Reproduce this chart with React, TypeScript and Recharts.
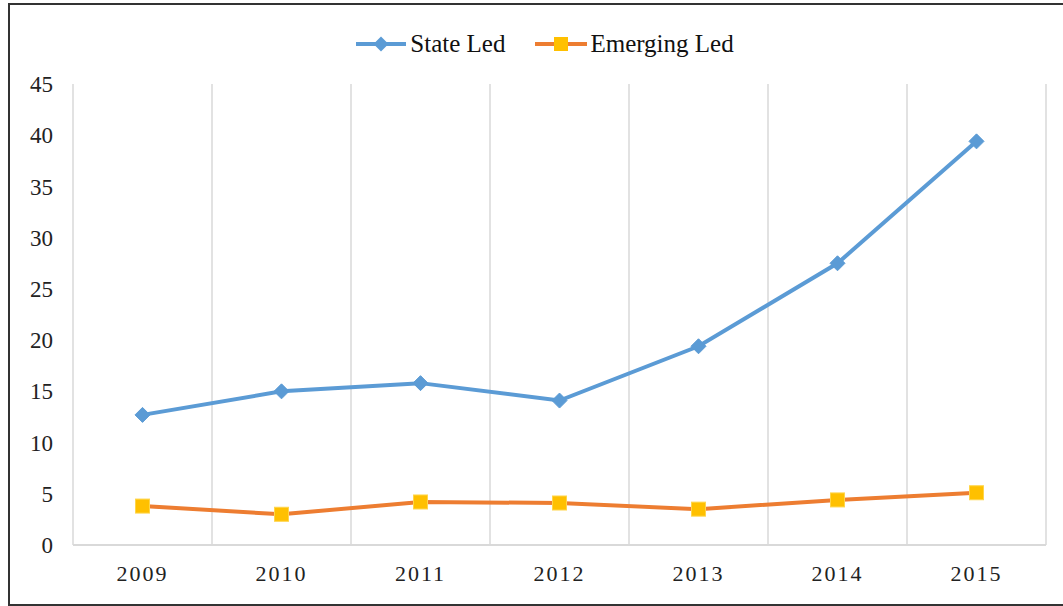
import React from 'react';
import { LineChart, Line, XAxis, YAxis, ReferenceLine } from 'recharts';

const years = ['2009', '2010', '2011', '2012', '2013', '2014', '2015'];
const stateLed = [12.7, 15.0, 15.8, 14.1, 19.4, 27.5, 39.4];
const emergingLed = [3.8, 3.0, 4.2, 4.1, 3.5, 4.4, 5.1];
const yTicks = [0, 5, 10, 15, 20, 25, 30, 35, 40, 45];
const xTicks = [0.5, 1.5, 2.5, 3.5, 4.5, 5.5, 6.5];
const gridLines = [0, 1, 2, 3, 4, 5, 6, 7];

const data = years.map((y, i) => ({ pos: i + 0.5, year: y, state: stateLed[i], emerging: emergingLed[i] }));

const BLUE = '#5B9BD5';
const ORANGE = '#ED7D31';
const GOLD = '#FFC000';
const FONT = '"Liberation Serif", "Times New Roman", serif';

const Diamond = (props: any) => {
  const { cx, cy } = props;
  if (cx == null || cy == null) return null;
  const r = 7.5;
  return <polygon points={`${cx},${cy - r} ${cx + r},${cy} ${cx},${cy + r} ${cx - r},${cy}`} fill={BLUE} stroke={BLUE} strokeWidth={1} />;
};

const Square = (props: any) => {
  const { cx, cy } = props;
  if (cx == null || cy == null) return null;
  const s = 14;
  return <rect x={cx - s / 2} y={cy - s / 2} width={s} height={s} fill={GOLD} stroke="#FFD54A" strokeWidth={1} />;
};

const LegendBlock = () => (
  <div style={{ position: 'absolute', top: 30, left: 0, width: 1090, display: 'flex', justifyContent: 'center', alignItems: 'center', fontFamily: FONT, fontSize: 25, color: '#111', lineHeight: '28px' }}>
    <div style={{ display: 'flex', alignItems: 'center', marginRight: 30 }}>
      <svg width={50} height={20} style={{ marginRight: 4 }}>
        <line x1={0} y1={10} x2={50} y2={10} stroke={BLUE} strokeWidth={4} />
        <polygon points="25,2.5 32.5,10 25,17.5 17.5,10" fill={BLUE} />
      </svg>
      <span>State Led</span>
    </div>
    <div style={{ display: 'flex', alignItems: 'center' }}>
      <svg width={52} height={20} style={{ marginRight: 3 }}>
        <line x1={0} y1={10} x2={52} y2={10} stroke={ORANGE} strokeWidth={4} />
        <rect x={19} y={3} width={14} height={14} fill={GOLD} />
      </svg>
      <span>Emerging Led</span>
    </div>
  </div>
);

export default function App() {
  return (
    <div style={{ position: 'absolute', left: 0, top: 0, width: 1063, height: 606, background: '#fff', overflow: 'hidden' }}>
      <div style={{ position: 'absolute', left: 8, top: 3, width: 1080, height: 599, borderTop: '2px solid #333', borderLeft: '2px solid #333', borderBottom: '2px solid #333' }} />
      <div style={{ position: 'absolute', left: 0, top: 0 }}>
        <LineChart width={1063} height={606} data={data} margin={{ top: 84, right: 17, bottom: 31, left: 0 }}>
          <XAxis
            dataKey="pos"
            type="number"
            domain={[0, 7]}
            ticks={xTicks}
            interval={0}
            height={30}
            tickFormatter={(v: number) => years[Math.floor(v)]}
            axisLine={{ stroke: '#d9d9d9', strokeWidth: 2 }}
            tickLine={false}
            tickSize={0}
            tickMargin={20}
            tick={{ fontFamily: FONT, fontSize: 22, fill: '#222', letterSpacing: 2 }}
          />
          <YAxis
            width={73}
            domain={[0, 45]}
            ticks={yTicks}
            interval={0}
            axisLine={false}
            tickLine={false}
            tickSize={0}
            tickMargin={20}
            tick={{ fontFamily: FONT, fontSize: 23, fill: '#222' }}
          />
          {gridLines.map((g) => (
            <ReferenceLine key={g} x={g} stroke="#d9d9d9" strokeWidth={1.5} />
          ))}
          <Line dataKey="state" name="State Led" stroke={BLUE} strokeWidth={4} dot={<Diamond />} activeDot={false} isAnimationActive={false} />
          <Line dataKey="emerging" name="Emerging Led" stroke={ORANGE} strokeWidth={4} dot={<Square />} activeDot={false} isAnimationActive={false} />
        </LineChart>
      </div>
      <LegendBlock />
    </div>
  );
}
